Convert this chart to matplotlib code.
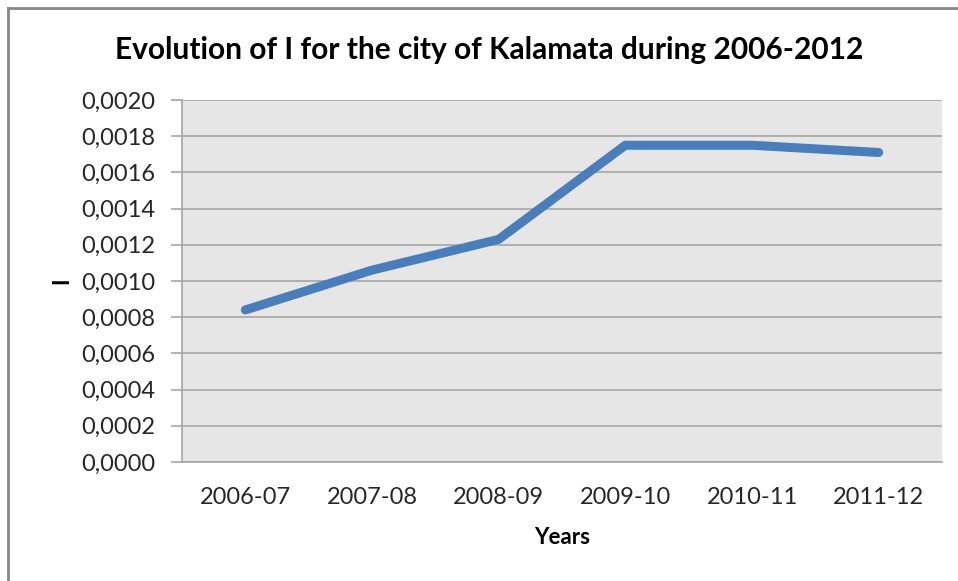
import matplotlib.pyplot as plt
from matplotlib.lines import Line2D
from matplotlib.ticker import FuncFormatter

years = ["2006-07", "2007-08", "2008-09", "2009-10", "2010-11", "2011-12"]
values = [0.00084, 0.00106, 0.00123, 0.00175, 0.00175, 0.00171]
y_ticks = [i * 0.0002 for i in range(11)]

plt.rcParams['font.family'] = ['Lato', 'DejaVu Sans']

fig = plt.figure(figsize=(9.58, 5.81), dpi=100)
ax = fig.add_axes([182 / 958, 1 - 462 / 581, 760 / 958, 362 / 581])

ax.set_facecolor('#e6e6e6')
x = list(range(len(years)))
ax.plot(x, values, color='#4a7ebb', linewidth=6.5, solid_capstyle='round',
        solid_joinstyle='round', zorder=3)

ax.set_xlim(-0.5, len(years) - 0.5)
ax.set_ylim(0, 0.0020)
ax.set_yticks(y_ticks)
ax.yaxis.set_major_formatter(FuncFormatter(lambda v, p: f"{v:.4f}".replace('.', ',')))
ax.set_xticks(x)
ax.set_xticklabels(years)

ax.grid(axis='y', color='#a6a6a6', linewidth=1.2)
ax.set_axisbelow(True)
for side in ['top', 'right']:
    ax.spines[side].set_visible(False)
ax.spines['left'].set_color('#a6a6a6')
ax.spines['bottom'].set_color('#a6a6a6')
ax.spines['left'].set_linewidth(1.2)
ax.spines['bottom'].set_linewidth(1.2)

ax.tick_params(axis='y', length=8, color='#a6a6a6', width=1.2, labelsize=17,
               pad=11, labelcolor='#262626')
ax.tick_params(axis='x', length=0, labelsize=17, pad=18, labelcolor='#262626')

fig.text(489 / 958, 1 - 50 / 581,
         "Evolution of I for the city of Kalamata during 2006-2012",
         fontsize=21.5, fontweight='bold', ha='center', va='center')
ax.set_xlabel("Years", fontsize=16, fontweight='bold', labelpad=14)
ax.set_ylabel("I", fontsize=16, fontweight='bold', labelpad=7)

# outer chart border (top and left visible)
fig.add_artist(Line2D([8 / 958, 1], [1 - 8 / 581, 1 - 8 / 581],
                      transform=fig.transFigure, color='#888888', linewidth=2))
fig.add_artist(Line2D([8 / 958, 8 / 958], [0, 1 - 8 / 581],
                      transform=fig.transFigure, color='#888888', linewidth=2))

fig.savefig("out.png", dpi=100)
